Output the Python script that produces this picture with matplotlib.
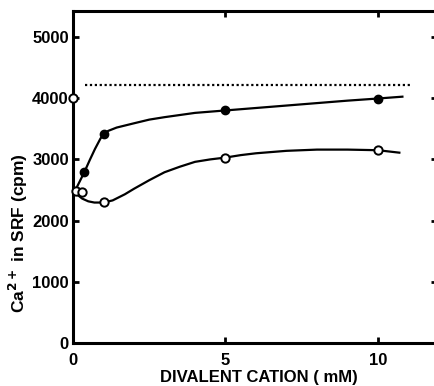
import matplotlib
matplotlib.use("Agg")
import matplotlib.pyplot as plt

plt.rcParams["font.family"] = ["Liberation Sans", "DejaVu Sans"]
plt.rcParams["font.weight"] = "bold"

# measured points
filled_x = [0.37, 1.0, 5.0, 10.0]
filled_y = [2790, 3410, 3800, 3990]
open_x = [0.0, 0.1, 0.3, 1.0, 5.0, 10.0]
open_y = [4000, 2490, 2460, 2310, 3020, 3150]

# hand-fitted curves through the points
filled_curve_x = [0.08, 0.2, 0.37, 0.55, 0.72, 0.9, 1.0, 1.15, 1.43, 2.0, 2.5, 3.0,
                  4.0, 5.0, 6.0, 7.0, 8.0, 9.0, 10.0, 10.8]
filled_curve_y = [2500, 2620, 2790, 2990, 3170, 3340, 3410, 3465, 3520, 3590, 3650,
                  3690, 3760, 3800, 3840, 3880, 3920, 3960, 3995, 4025]
open_curve_x = [0.08, 0.15, 0.3, 0.5, 0.7, 1.0, 1.3, 1.7, 2.0, 2.5, 3.0, 3.5, 4.0,
                4.5, 5.0, 5.5, 6.0, 7.0, 8.0, 9.0, 10.0, 10.7]
open_curve_y = [2500, 2420, 2360, 2315, 2295, 2295, 2330, 2430, 2520, 2660, 2790,
                2880, 2960, 3000, 3030, 3070, 3100, 3140, 3160, 3160, 3150, 3110]

# total calcium level
total_level = 4220
total_x = [0.4, 11.1]

xticks = [0, 5, 10]
yticks = [0, 1000, 2000, 3000, 4000, 5000]

fig = plt.figure(figsize=(4.35, 3.86), dpi=100)
ax = fig.add_axes([73 / 435, 43 / 386, 364 / 435, 332 / 386])

ax.plot(filled_curve_x, filled_curve_y, color="black", lw=1.6, zorder=2)
ax.plot(open_curve_x, open_curve_y, color="black", lw=1.6, zorder=2)
ax.plot(filled_x, filled_y, "o", color="black", ms=6, zorder=3)
ax.plot(open_x, open_y, "o", mfc="white", mec="black", mew=1.4, ms=6,
        zorder=4, clip_on=False)
ax.plot(total_x, [total_level, total_level], color="black", lw=1.6,
        linestyle=(0, (1.0, 1.2)), zorder=2)

ax.set_xlim(0, 364 / 30.5)
ax.set_ylim(0, 332 / 61.2 * 1000)
ax.set_xticks(xticks)
ax.set_yticks(yticks)
ax.tick_params(direction="in", length=4, width=2, labelsize=12,
               top=True, right=True)
ax.tick_params(axis="x", pad=7)
ax.tick_params(axis="y", pad=3)
for s in ax.spines.values():
    s.set_linewidth(2.2)

ax.set_xlabel("DIVALENT CATION ( mM)", fontsize=12, fontweight="bold")
ax.xaxis.set_label_coords(0.511, -0.08)
fig.text(18 / 435, 1 - 233 / 386, "Ca$^{2+}$ in SRF (cpm)", rotation=90,
         ha="center", va="center", fontsize=12.5, fontweight="bold")

fig.savefig("out.png", dpi=100)
